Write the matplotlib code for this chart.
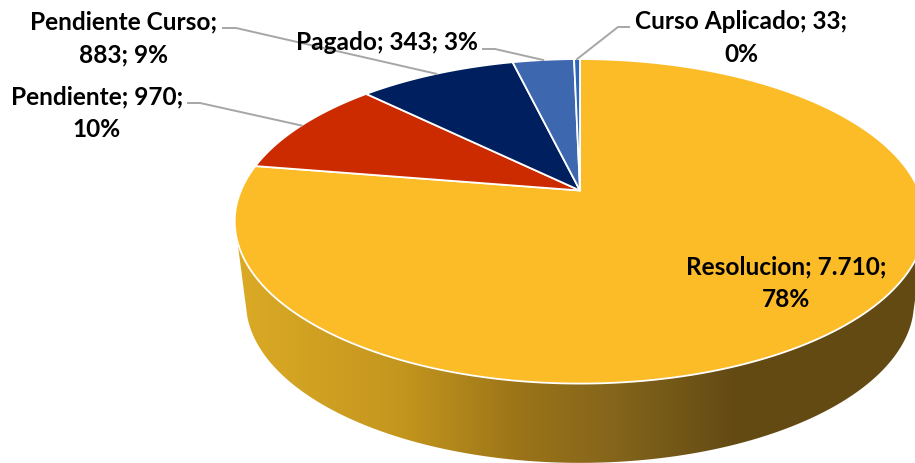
import numpy as np
import matplotlib
matplotlib.use('Agg')
import matplotlib.pyplot as plt
from matplotlib.colors import LinearSegmentedColormap
from matplotlib.patches import Polygon

categories = ['Resolucion', 'Pendiente', 'Pendiente Curso', 'Pagado', 'Curso Aplicado']
values = [7710, 970, 883, 343, 33]
colors = ['#FBBC27', '#CC2B00', '#001F5F', '#3D67AF', '#2E65B8']

# text centre of each label, line break after the value or not
label_pos = [(786, 283), (97, 113), (124, 38), (387, 42), (741, 38)]
label_break = ['value', 'value', 'name', None, 'value']
# elbow of the leader line: start x, bend x, y
leaders = [None, (188, 200, 104), (223, 236, 29), (483, 495, 50), (629, 618, 28)]

plt.rcParams['font.family'] = ['Lato', 'DejaVu Sans']

# pivot and perspective of the top face
cx, cy = 580, 191.5
a, b, k = 339, 156.4, 0.19
# same for the lower rim
a2, b2, dy = 328, 155, 81


def project(theta, a=a, b=b, cy=cy):
    # theta clockwise from top, in radians
    w = 1 + k * np.cos(theta)
    return cx + a * np.sin(theta) / w, cy - b * np.cos(theta) / w


def label_text(name, val, pct, brk):
    num = f'{val:,}'.replace(',', '.')
    if brk == 'value':
        return f'{name}; {num};\n{pct}%'
    if brk == 'name':
        return f'{name};\n{num}; {pct}%'
    return f'{name}; {num}; {pct}%'


fig = plt.figure(figsize=(9.15, 4.64), dpi=100)
ax = fig.add_axes([0, 0, 1, 1])

total = sum(values)
edges = np.cumsum([0] + values) / total * 2 * np.pi

# side wall with the horizontal gradient
tx, ty = project(np.linspace(np.radians(106), np.radians(252), 300))
bx, by = project(np.linspace(np.radians(254), np.radians(106), 300), a=a2, b=b2, cy=cy + dy)
wall_pts = np.column_stack([np.r_[tx, bx], np.r_[ty, by]])
wall = Polygon(wall_pts, closed=True, fc='none', ec='none')
ax.add_patch(wall)
wall_cmap = LinearSegmentedColormap.from_list('wall', [
    (0.0, '#DBAA25'), (0.24, '#C4961E'), (0.41, '#9B7418'),
    (0.55, '#84651B'), (0.72, '#644B14'), (1.0, '#624A12')])
img = ax.imshow(np.linspace(0, 1, 512).reshape(1, -1), cmap=wall_cmap, aspect='auto',
                extent=[236, 925, 470, 200], zorder=1)
img.set_clip_path(wall)

# top face
for i in range(len(values)):
    th = np.linspace(edges[i], edges[i + 1], 200)
    x, y = project(th)
    ax.fill(np.r_[cx, x], np.r_[cy, y], fc=colors[i], ec='white', lw=1.3, zorder=2,
            joinstyle='round')

# leaders and labels
for i, name in enumerate(categories):
    mid = (edges[i] + edges[i + 1]) / 2
    if leaders[i] is not None:
        x0, x1, yl = leaders[i]
        mx, my = project(mid)
        ax.plot([x0, x1, mx], [yl, yl, my], color='#A6A6A6', lw=1.4, zorder=3)
    pct = int(round(values[i] / total * 100))
    ax.text(label_pos[i][0], label_pos[i][1], label_text(name, values[i], pct, label_break[i]),
            ha='center', va='center', fontsize=17.6, fontweight='bold', color='black',
            linespacing=1.52, zorder=4)

ax.set_xlim(0, 915)
ax.set_ylim(464, 0)
ax.axis('off')
fig.savefig('out.png', dpi=100, facecolor='white')
